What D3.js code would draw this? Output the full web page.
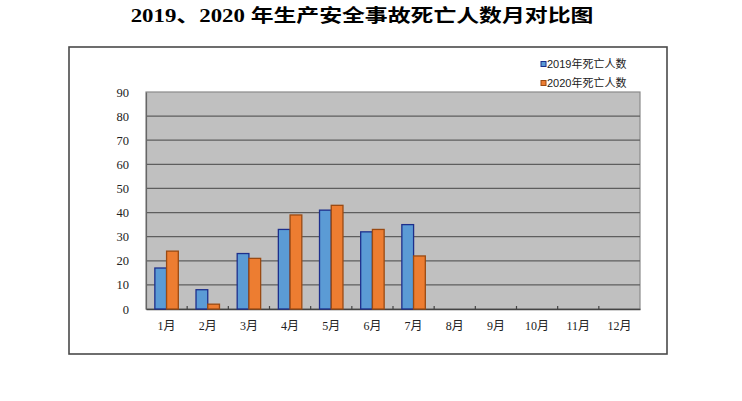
<!DOCTYPE html>
<html><head><meta charset="utf-8">
<script src="https://cdn.jsdelivr.net/npm/d3@7"></script>
<style>body{margin:0;background:#fff}svg{display:block}</style>
</head><body>
<svg id="c" width="742" height="401"></svg>
<script>
const months = ["1月","2月","3月","4月","5月","6月","7月","8月","9月","10月","11月","12月"];
const deaths2019 = [17, 8, 23, 33, 41, 32, 35, null, null, null, null, null];
const deaths2020 = [24, 2, 21, 39, 43, 33, 22, null, null, null, null, null];
const seriesNames = ["2019年死亡人数", "2020年死亡人数"];
const yTicks = [0,10,20,30,40,50,60,70,80,90];
const titleText = "2019、2020 年生产安全事故死亡人数月对比图";

const svg = d3.select("#c");
const pl = 146, pr = 640, pt = 92, pb = 309;

// title
svg.append("text").attr("transform","translate(362,22) scale(1.27,1)")
  .attr("text-anchor","middle")
  .attr("font-family","'Liberation Serif','Noto Sans CJK SC',serif")
  .attr("font-weight","bold").attr("font-size",18).attr("fill","#000")
  .text(titleText);

// outer frame
svg.append("rect").attr("x",69).attr("y",47).attr("width",598).attr("height",307)
  .attr("fill","#fff").attr("stroke","#4a4a4a").attr("stroke-width",1.6);

const x = d3.scaleBand().domain(months).range([pl, pr]).paddingInner(0.43).paddingOuter(0.215);
const xs = d3.scaleBand().domain([0,1]).range([0, x.bandwidth()]);
const y = d3.scaleLinear().domain([0,90]).range([pb, pt]);
const band = d3.scaleBand().domain(months).range([pl, pr]);

// plot background
svg.append("rect").attr("x",pl).attr("y",pt).attr("width",pr-pl).attr("height",pb-pt)
  .attr("fill","#c0c0c0").attr("stroke","#8a8a8a").attr("stroke-width",1.2);

// grid
svg.append("g").selectAll("line").data(yTicks.filter(d=>d>0 && d<90)).join("line")
  .attr("x1",pl).attr("x2",pr).attr("y1",d=>y(d)).attr("y2",d=>y(d))
  .attr("stroke","#5e5e5e").attr("stroke-width",1.2);

// y axis
const ya = svg.append("g").attr("transform",`translate(${pl},0)`)
  .call(d3.axisLeft(y).tickValues(yTicks).tickSize(0).tickPadding(17));
ya.select(".domain").attr("stroke","#666").attr("stroke-width",1.2);
ya.selectAll("text").attr("font-family","'Liberation Serif',serif").attr("font-size",12.5).attr("fill","#222");

// x axis
const xa = svg.append("g").attr("transform",`translate(0,${pb})`)
  .call(d3.axisBottom(band).tickSize(0).tickPadding(12));
xa.select(".domain").attr("stroke","#444").attr("stroke-width",1.4);
xa.selectAll("text").attr("font-family","'Liberation Serif','Noto Sans CJK SC',serif").attr("font-size",12).attr("fill","#222");
// inner tick marks at category boundaries
svg.append("g").selectAll("line").data(months.slice(1)).join("line")
  .attr("x1",d=>band(d)).attr("x2",d=>band(d)).attr("y1",pb).attr("y2",pb-3)
  .attr("stroke","#444").attr("stroke-width",1.2);

// bars
const colors = [{fill:"#5b9bd5",stroke:"#1d2f8c"},{fill:"#ed7d31",stroke:"#9a4a12"}];
[deaths2019, deaths2020].forEach((vals, si) => {
  svg.append("g").selectAll("rect")
    .data(months.map((m,i)=>({m, v: vals[i]})).filter(d=>d.v!=null)).join("rect")
    .attr("x", d=>x(d.m)+xs(si)).attr("width", xs.bandwidth())
    .attr("y", d=>y(d.v)).attr("height", d=>pb - y(d.v))
    .attr("fill", colors[si].fill).attr("stroke", colors[si].stroke).attr("stroke-width",1.3);
});

// legend
const lg = svg.append("g");
seriesNames.forEach((n,i)=>{
  const cy = 64 + i*19;
  lg.append("rect").attr("x",541).attr("y",cy-2.5).attr("width",5).attr("height",5)
    .attr("fill",colors[i].fill).attr("stroke",colors[i].stroke).attr("stroke-width",1);
  lg.append("text").attr("x",547).attr("y",cy+4).attr("font-size",11)
    .attr("font-family","'Liberation Sans','Noto Sans CJK SC',sans-serif").attr("fill","#222").text(n);
});
</script>
</body></html>
